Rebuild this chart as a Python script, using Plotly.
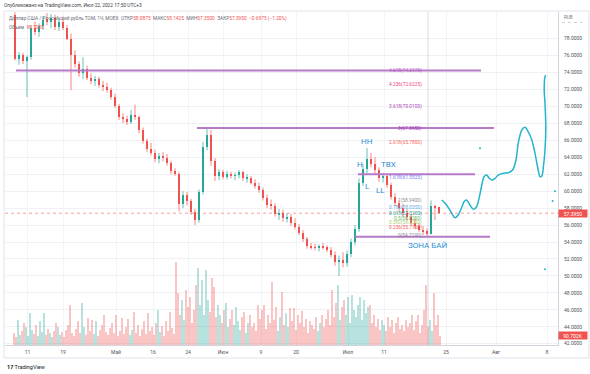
import plotly.graph_objects as go

# ---------------- data ----------------
# candle index (one candle ~ a few trading hours), price in RUB
bar_idx = list(range(2, 109))
opens = [80.8, 75.6, 76.0, 75.4, 75.8, 79.2, 78.8, 79.5, 80.2, 80.0, 80.4, 79.4, 80.0, 79.3, 78.0, 76.0, 75.0, 73.9, 74.4, 73.4,
         73.0, 73.2, 72.5, 72.3, 71.9, 71.1, 70.0, 68.8, 68.5, 68.2, 69.0, 68.7, 67.2, 65.9, 65.0, 64.5, 63.8, 64.2, 63.9, 63.3,
         62.4, 62.0, 58.5, 59.6, 58.8, 57.5, 56.6, 59.9, 65.2, 66.6, 63.5, 61.8, 62.2, 61.7, 62.0, 61.8, 61.9, 62.2, 61.5, 61.6,
         61.0, 60.6, 60.1, 59.2, 58.4, 58.3, 57.3, 57.4, 56.8, 57.0, 56.2, 55.8, 55.1, 54.3, 53.5, 53.4, 53.3, 53.5, 53.3, 53.1,
         52.5, 51.6, 51.9, 51.5, 52.6, 54.0, 55.5, 61.0, 62.6, 63.8, 63.2, 62.5, 61.5, 61.8, 60.7, 59.3, 58.6, 58.0, 57.4, 56.9,
         56.3, 55.9, 55.4, 55.2, 55.0, 58.2, 58.0875]
highs = [81.1, 76.4, 76.3, 76.0, 79.6, 80.0, 79.8, 80.6, 81.0, 80.9, 80.8, 80.4, 80.6, 79.6, 78.6, 76.6, 75.3, 75.8, 74.8, 73.9,
         73.6, 73.5, 73.0, 72.8, 72.2, 71.5, 70.3, 69.2, 68.9, 69.6, 70.2, 68.9, 67.5, 66.2, 65.7, 64.9, 64.5, 64.6, 64.4, 63.6,
         62.7, 62.3, 60.0, 59.9, 59.1, 57.9, 60.2, 65.8, 67.5, 67.2, 63.9, 62.6, 62.5, 62.4, 62.3, 62.2, 62.5, 62.4, 62.0, 61.8,
         61.4, 61.0, 60.4, 59.6, 59.0, 58.6, 57.9, 57.8, 57.4, 57.3, 56.8, 56.1, 55.4, 54.6, 53.9, 53.8, 53.7, 53.9, 53.6, 53.4,
         52.9, 52.4, 52.8, 53.0, 54.4, 56.0, 61.5, 63.2, 65.1, 64.5, 64.0, 62.8, 62.1, 62.0, 61.0, 59.8, 58.9, 58.5, 57.9, 57.3,
         56.8, 56.2, 55.9, 55.6, 58.9, 58.4, 58.1425]
lows = [75.4, 74.9, 75.0, 71.1, 75.5, 78.4, 78.2, 79.0, 79.6, 79.2, 79.0, 78.9, 79.0, 77.8, 71.9, 74.6, 73.5, 73.2, 73.1, 72.6,
        72.4, 72.2, 71.8, 71.6, 70.8, 69.8, 68.4, 68.0, 67.8, 67.9, 68.4, 66.8, 65.6, 64.6, 64.2, 63.4, 63.3, 63.5, 63.0, 62.0,
        61.8, 57.6, 58.0, 58.3, 57.2, 56.0, 56.3, 59.6, 64.8, 63.0, 61.2, 61.3, 61.4, 61.4, 61.5, 61.3, 61.5, 61.2, 61.0, 60.8,
        60.3, 59.8, 58.9, 58.0, 57.8, 57.0, 56.6, 56.4, 56.3, 55.9, 55.5, 54.8, 54.0, 53.2, 53.1, 53.0, 52.9, 53.1, 52.8, 52.2,
        51.2, 50.0, 51.0, 51.1, 52.2, 53.6, 55.2, 60.6, 62.1, 62.8, 62.1, 61.1, 61.0, 60.4, 59.0, 58.2, 57.6, 57.0, 56.5, 56.0,
        55.5, 55.2, 54.8, 54.72, 54.9, 56.6, 57.35]
closes = [75.6, 76.0, 75.4, 75.8, 79.2, 78.8, 79.5, 80.2, 80.0, 80.4, 79.4, 80.0, 79.3, 78.0, 76.0, 75.0, 73.9, 74.4, 73.4, 73.0,
          73.2, 72.5, 72.3, 71.9, 71.1, 70.0, 68.8, 68.5, 68.2, 69.0, 68.7, 67.2, 65.9, 65.0, 64.5, 63.8, 64.2, 63.9, 63.3, 62.4,
          62.0, 58.5, 59.6, 58.8, 57.5, 56.6, 59.9, 65.2, 66.6, 63.5, 61.8, 62.2, 61.7, 62.0, 61.8, 61.9, 62.2, 61.5, 61.6, 61.0,
          60.6, 60.1, 59.2, 58.4, 58.3, 57.3, 57.4, 56.8, 57.0, 56.2, 55.8, 55.1, 54.3, 53.5, 53.4, 53.3, 53.5, 53.3, 53.1, 52.5,
          51.6, 51.9, 51.5, 52.6, 54.0, 55.5, 61.0, 62.6, 63.8, 63.2, 62.5, 61.5, 61.8, 60.7, 59.3, 58.6, 58.0, 57.4, 56.9, 56.3,
          55.9, 55.4, 55.2, 55.0, 58.2, 58.0, 57.395]

# volume (thousands), two bars per candle
vol_start, vol_step = 1.75, 0.5
volume_k = [120, 80, 250, 100, 140, 220, 180, 90, 320, 150,
            110, 200, 90, 240, 130, 320, 100, 160, 120, 80,
            140, 220, 180, 100, 130, 80, 150, 200, 400, 120,
            90, 160, 240, 120, 420, 180, 100, 270, 140, 250,
            110, 240, 90, 150, 200, 300, 130, 100, 170, 220,
            120, 300, 90, 140, 270, 110, 180, 260, 100, 150,
            330, 120, 200, 90, 160, 240, 110, 320, 140, 180,
            100, 220, 350, 130, 190, 90, 240, 140, 330, 170,
            110, 830, 520, 300, 450, 250, 550, 380, 480, 220,
            350, 600, 770, 400, 650, 300, 750, 450, 330, 670,
            580, 280, 400, 300, 220, 350, 420, 180, 260, 350,
            200, 380, 240, 150, 280, 330, 120, 220, 300, 180,
            220, 140, 400, 260, 350, 400, 160, 300, 220, 630,
            250, 380, 140, 280, 530, 200, 320, 180, 370, 240,
            370, 150, 300, 220, 340, 180, 260, 120, 240, 200,
            160, 280, 140, 220, 300, 180, 260, 350, 200, 550,
            280, 420, 600, 250, 380, 450, 300, 480, 220, 500,
            350, 280, 400, 480, 250, 450, 320, 380, 400, 220,
            300, 180, 260, 150, 250, 200, 140, 280, 180, 250,
            120, 220, 280, 160, 200, 140, 250, 180, 220, 300,
            150, 240, 300, 120, 200, 350, 600, 180, 250, 140,
            520, 200, 300, 90.702]

# user-drawn horizontal levels: (price, from bar, to bar)
levels_price = [74.22, 67.45, 61.98, 54.62]
levels_from = [2.25, 47.5, 87.75, 87.0]
levels_to = [118.5, 121.75, 117.0, 120.75]

# Fibonacci extension labels
fib_ratio = ["4.618", "4.236", "3.618", "3", "2.618", "1.618", "1", "0.786", "0.618", "0.5", "0.382", "0.236", "0"]
fib_value = [74.2170, 72.6225, 70.0100, 67.3950, 65.7800, 61.5525, 58.9400, 58.0350, 57.3250, 56.8250, 56.3250, 55.7160, 54.7190]
fib_color = ["#b34fbf", "#e91e63", "#9c27b0", "#9c27b0", "#f44336", "#5c5ff2", "#787b86", "#4aa3df", "#009688",
             "#4caf50", "#9ccc65", "#f44336", "#787b86"]

# hand-drawn forecast path (bar index, price)
fc_x = [108.7, 109.9, 111.2, 112.0, 112.8, 113.7, 114.25, 114.9, 115.75, 116.6, 117.4, 118.1, 118.7, 119.25, 119.9,
        120.6, 121.2, 122.0, 122.8, 124.1, 125.3, 126.4, 127.25, 127.8, 128.7, 129.5, 130.3, 131.2, 132.0, 132.8,
        133.25, 133.75, 134.1, 134.5, 134.7, 134.5, 134.3, 134.5, 134.7]
fc_y = [58.95, 58.36, 57.38, 56.86, 57.18, 58.09, 58.75, 58.95, 58.36, 57.85, 58.16, 59.34, 60.72, 61.70, 61.90,
        61.51, 61.31, 61.51, 61.90, 62.10, 62.17, 62.49, 63.67, 65.64, 67.21, 67.53, 67.01, 66.03, 64.46, 62.49,
        61.70, 61.82, 62.88, 64.85, 67.60, 70.36, 71.93, 73.49, 73.69]
dots_x = [118.25, 137.0, 136.4, 134.5]
dots_y = [65.07, 60.0, 58.83, 50.8]

# annotations drawn on chart
notes_text = ["HH", "H", "ТВХ", "L", "LL", "ЗОНА БАЙ"]
notes_x = [90.0, 88.25, 95.25, 90.0, 93.25, 105.2]
notes_y = [65.9, 63.2, 63.2, 60.6, 60.13, 53.64]

price_ticks = [42, 44, 46, 48, 50, 52, 54, 56, 58, 60, 62, 64, 66, 68, 70, 72, 74, 76, 78]
date_pos = [5.15, 14, 27.25, 36.5, 45.25, 54, 63.5, 72.25, 85.25, 94.25, 109.75, 122.25, 135]
date_text = ["11", "19", "Май", "16", "24", "Июн", "9", "20", "Июл", "11", "25", "Авг", "8"]

last_price = 57.395
last_volume = 90.702

# ---------------- figure ----------------
W, H = 590, 374
ML, MR, MT, MB = 5, 32, 12, 29
PW, PH = W - ML - MR, H - MT - MB
FONT = "Roboto"
UP, DOWN = "#26a69a", "#ef5350"


def px(x):
    return (x - ML) / PW


def py(y):
    return (H - MB - y) / PH


fig = go.Figure()

# volume (behind)
vol_x = [vol_start + vol_step * i for i in range(len(volume_k))]
vol_col = []
for vx in vol_x:
    k = min(max(int(round(vx)), bar_idx[0]), bar_idx[-1])
    j = k - bar_idx[0]
    vol_col.append("rgba(38,166,154,0.33)" if closes[j] >= opens[j] else "rgba(239,83,80,0.33)")
fig.add_trace(go.Bar(x=vol_x, y=volume_k, width=0.3, marker=dict(color=vol_col, line=dict(width=0)),
                     yaxis="y", hoverinfo="skip", showlegend=False))

# candles: wicks + thin bodies
for is_up, col in ((True, UP), (False, DOWN)):
    wx, wy = [], []
    for k, o, h, l, c in zip(bar_idx, opens, highs, lows, closes):
        if (c >= o) == is_up:
            wx += [k, k, None]
            wy += [l, h, None]
    fig.add_trace(go.Scatter(x=wx, y=wy, mode="lines", yaxis="y2", line=dict(color=col, width=0.7),
                             showlegend=False, hoverinfo="skip"))
body_col = [UP if c >= o else DOWN for o, c in zip(opens, closes)]
fig.add_trace(go.Bar(x=bar_idx, y=[c - o for o, c in zip(opens, closes)], base=opens, width=0.42, yaxis="y2",
                     marker=dict(color=body_col, line=dict(width=0)), showlegend=False, hoverinfo="skip"))

# horizontal levels
for p, a, b in zip(levels_price, levels_from, levels_to):
    fig.add_trace(go.Scatter(x=[a, b], y=[p, p], mode="lines", yaxis="y2",
                             line=dict(color="#b77ac9", width=2), showlegend=False, hoverinfo="skip"))

# forecast path
fig.add_trace(go.Scatter(x=fc_x, y=fc_y, mode="lines", yaxis="y2",
                         line=dict(color="#22b5cc", width=1.5, shape="spline", smoothing=0.8),
                         showlegend=False, hoverinfo="skip"))
fig.add_trace(go.Scatter(x=dots_x, y=dots_y, mode="markers", yaxis="y2",
                         marker=dict(color="#22b5cc", size=2), showlegend=False, hoverinfo="skip"))

ann = []
# fib labels
for r, v, c in zip(fib_ratio, fib_value, fib_color):
    ann.append(dict(x=104.2, y=v, xref="x", yref="y2", text=f"{r}({v:.4f})", showarrow=False,
                    xanchor="right", yanchor="middle", font=dict(family=FONT, size=4.8, color=c), opacity=0.85))
# chart notes
for t, x, y in zip(notes_text, notes_x, notes_y):
    ann.append(dict(x=x, y=y, xref="x", yref="y2", text=t, showarrow=False, xanchor="center", yanchor="middle",
                    font=dict(family=FONT, size=8, color="#2e8fd3")))

# header / legend
ann.append(dict(x=px(2), y=py(5), xref="paper", yref="paper", xanchor="left", yanchor="middle", showarrow=False,
                text="Опубликовано на TradingView.com, Июл 22, 2022 17:50 UTC+3",
                font=dict(family=FONT, size=4.8, color="#3a3d46")))
red = "#ef5350"
legend = ("Доллар США / Российский рубль TOM, 1Ч, MOEX&nbsp;&nbsp;ОТКР<span style='color:%s'>58.0875</span>"
          "&nbsp;&nbsp;МАКС<span style='color:%s'>58.1425</span>&nbsp;&nbsp;МИН<span style='color:%s'>57.3500</span>"
          "&nbsp;&nbsp;ЗАКР<span style='color:%s'>57.3950</span>&nbsp;&nbsp;<span style='color:%s'>−0.6975 (−1.20%%)</span>"
          % (red, red, red, red, red))
ann.append(dict(x=px(7), y=py(19), xref="paper", yref="paper", xanchor="left", yanchor="middle", showarrow=False,
                text=legend, font=dict(family=FONT, size=4.8, color="#6a6d78")))
ann.append(dict(x=px(7), y=py(27), xref="paper", yref="paper", xanchor="left", yanchor="middle", showarrow=False,
                text="Объем&nbsp;&nbsp;<span style='color:%s'>%.3fK</span>" % (red, last_volume),
                font=dict(family=FONT, size=4.8, color="#6a6d78")))
ann.append(dict(x=px(562), y=py(17), xref="paper", yref="paper", xanchor="left", yanchor="middle", showarrow=False,
                text="RUB", font=dict(family=FONT, size=4.6, color="#787b86")))
# price / volume tags on axis
ann.append(dict(x=1, y=last_price, xref="paper", yref="y2", xanchor="left", yanchor="middle", showarrow=False,
                text="%.4f" % last_price, bgcolor=red, width=28, height=7, borderpad=0,
                font=dict(family=FONT, size=5, color="white")))
ann.append(dict(x=1, y=last_volume, xref="paper", yref="y", xanchor="left", yanchor="middle", showarrow=False,
                text="%.3fK" % last_volume, bgcolor=red, width=28, height=7, borderpad=0,
                font=dict(family=FONT, size=5, color="white")))
# logo
ann.append(dict(x=px(5), y=py(367), xref="paper", yref="paper", xanchor="left", yanchor="middle", showarrow=False,
                text="<b>17</b> TradingView", font=dict(family=FONT, size=5.5, color="#131722")))

shapes = [
    dict(type="rect", xref="paper", yref="paper", x0=px(4), x1=px(589), y0=py(358), y1=py(11),
         line=dict(color="#e0e3eb", width=1), fillcolor="rgba(0,0,0,0)", layer="below"),
    dict(type="line", xref="paper", yref="y2", x0=0, x1=1, y0=last_price, y1=last_price,
         line=dict(color="rgba(239,83,80,0.55)", width=1, dash="dot")),
    dict(type="line", xref="x", yref="paper", x0=105.25, x1=105.25, y0=0, y1=1,
         line=dict(color="rgba(149,152,161,0.35)", width=1)),
    dict(type="line", xref="paper", yref="paper", x0=px(562), x1=px(582), y0=py(22.5), y1=py(22.5),
         line=dict(color="#b2b5be", width=0.6, dash="dot")),
]

fig.update_layout(
    width=W, height=H, margin=dict(l=ML, r=MR, t=MT, b=MB),
    paper_bgcolor="white", plot_bgcolor="white", showlegend=False, barmode="overlay",
    annotations=ann, shapes=shapes,
    xaxis=dict(range=[-0.5, 137.75], tickmode="array", tickvals=date_pos, ticktext=date_text,
               tickfont=dict(family=FONT, size=5, color="#50535e"), showgrid=True, gridcolor="#f3f4f7",
               zeroline=False, showline=True, linecolor="#d1d4dc", linewidth=1, ticks="", ticklabelstandoff=2,
               fixedrange=True),
    yaxis=dict(range=[0, 3330], visible=False, fixedrange=True),
    yaxis2=dict(overlaying="y", side="right", range=[41.85, 81.13], tickmode="array", tickvals=price_ticks,
                ticktext=["%.4f" % v for v in price_ticks], tickfont=dict(family=FONT, size=5, color="#50535e"),
                showgrid=True, gridcolor="#f0f1f4", zeroline=False, showline=True, linecolor="#d1d4dc",
                linewidth=1, ticks="", ticklabelstandoff=4, fixedrange=True),
    bargap=0,
)

fig.write_html("out.html", config={"displayModeBar": False},
               post_script="document.body.style.margin='0px';document.body.style.padding='0px';")
